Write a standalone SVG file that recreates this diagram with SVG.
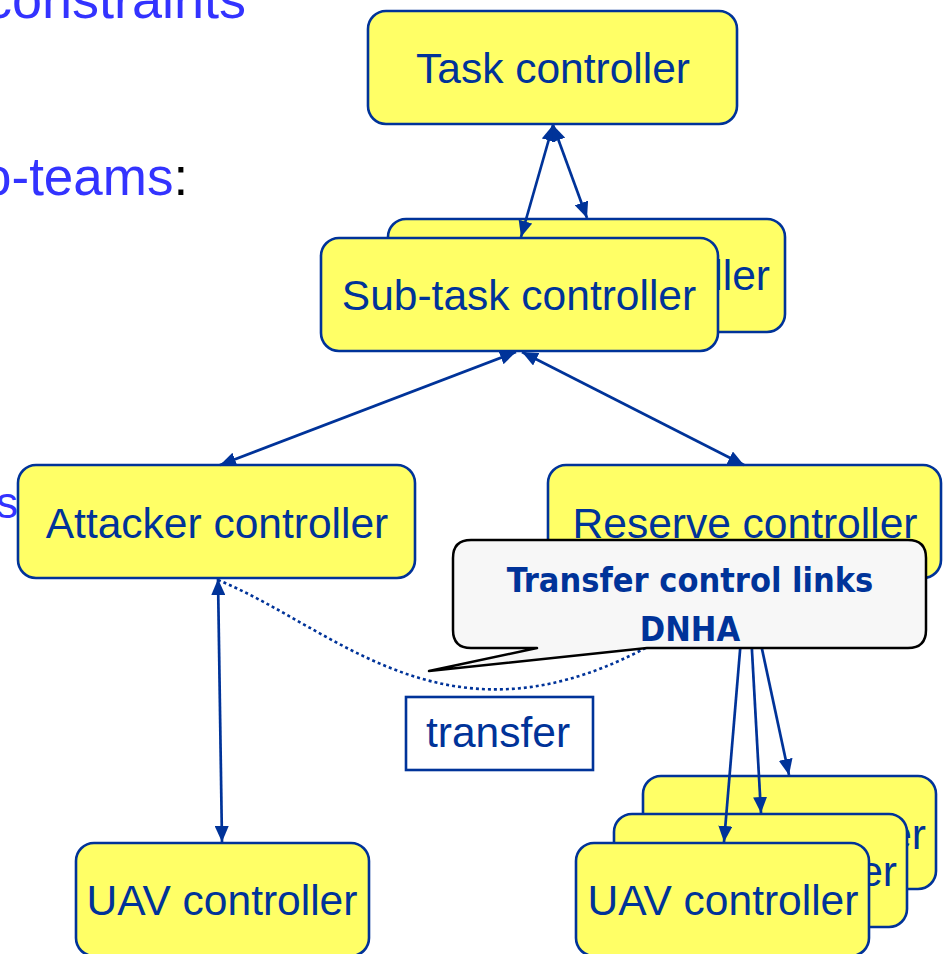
<svg xmlns="http://www.w3.org/2000/svg" width="943" height="954" viewBox="0 0 943 954">
  <style>
    .box { fill: #ffff66; stroke: #003399; stroke-width: 2.6; }
    .lbl { font-family: "Liberation Sans", Arial, sans-serif; font-size: 42.5px; fill: #003399; }
    .bg { font-family: "Liberation Sans", Arial, sans-serif; fill: #3333ff; }
    .link { fill: none; stroke: #003399; stroke-width: 2.7; }
    .dot { fill: none; stroke: #003399; stroke-width: 2.6; stroke-dasharray: 3 3; }
    .note { fill: #f7f7f7; stroke: #000000; stroke-width: 2.5; stroke-linejoin: round; }
    .notetxt { font-family: "DejaVu Sans Condensed", "DejaVu Sans", sans-serif; font-weight: bold; font-size: 34px; fill: #003399; text-anchor: middle; }
  </style>
  <defs>
    <marker id="head" viewBox="0 0 16 14" refX="16" refY="7" markerWidth="16" markerHeight="14" markerUnits="userSpaceOnUse" orient="auto-start-reverse">
      <path d="M0,0 L16,7 L0,14 Z" fill="#003399"/>
    </marker>
  </defs>

  <rect width="943" height="954" fill="#ffffff"/>

  <!-- slide text behind the chart -->
  <g id="slide-text">
    <text class="bg" x="-15" y="18" font-size="54">constraints</text>
    <text class="bg" x="-18" y="195" font-size="53">o-teams<tspan fill="#000000">:</tspan></text>
    <text class="bg" x="18" y="518" font-size="44" text-anchor="end" fill="#1f1fe0">s</text>
  </g>

  <g id="task">
    <rect class="box" x="368" y="11" width="369" height="113" rx="18"/>
    <text class="lbl" x="553" y="83" text-anchor="middle">Task controller</text>
  </g>

  <g id="subtask-2">
    <rect class="box" x="388" y="219" width="397" height="113" rx="18"/>
    <text class="lbl" x="770" y="290" text-anchor="end">Sub-task controller</text>
  </g>

  <g id="subtask-1">
    <rect class="box" x="321" y="238" width="397" height="113" rx="18"/>
    <text class="lbl" x="519" y="310" text-anchor="middle">Sub-task controller</text>
  </g>

  <g id="attacker">
    <rect class="box" x="18" y="465" width="397" height="113" rx="18"/>
    <text class="lbl" x="217" y="538" text-anchor="middle">Attacker controller</text>
  </g>

  <g id="reserve">
    <rect class="box" x="548" y="465" width="393" height="113" rx="18"/>
    <text class="lbl" x="745" y="538" text-anchor="middle">Reserve controller</text>
  </g>

  <g id="uav-left">
    <rect class="box" x="76" y="843" width="293" height="113" rx="18"/>
    <text class="lbl" x="222" y="915" text-anchor="middle">UAV controller</text>
  </g>

  <g id="uav-3">
    <rect class="box" x="643" y="776" width="293" height="113" rx="18"/>
    <text class="lbl" x="926" y="849" text-anchor="end">UAV controller</text>
  </g>

  <g id="uav-2">
    <rect class="box" x="614" y="814" width="293" height="113" rx="18"/>
    <text class="lbl" x="897" y="886" text-anchor="end">UAV controller</text>
  </g>

  <g id="uav-1">
    <rect class="box" x="576" y="843" width="293" height="113" rx="18"/>
    <text class="lbl" x="723" y="915" text-anchor="middle">UAV controller</text>
  </g>

  <g id="transfer">
    <rect x="406" y="697" width="187" height="73" fill="#ffffff" stroke="#003399" stroke-width="2.6"/>
    <text class="lbl" x="498" y="747" text-anchor="middle">transfer</text>
  </g>

  <g id="connectors">
    <line class="link" x1="553" y1="125" x2="521" y2="237" marker-start="url(#head)" marker-end="url(#head)"/>
    <line class="link" x1="553" y1="125" x2="587" y2="218" marker-start="url(#head)" marker-end="url(#head)"/>
    <line class="link" x1="516" y1="352" x2="220" y2="465" marker-start="url(#head)" marker-end="url(#head)"/>
    <line class="link" x1="522" y1="352" x2="744" y2="465" marker-start="url(#head)" marker-end="url(#head)"/>
    <line class="link" x1="218" y1="579" x2="222" y2="842" marker-start="url(#head)" marker-end="url(#head)"/>
    <line class="link" x1="746" y1="579" x2="724" y2="842" marker-end="url(#head)"/>
    <line class="link" x1="748" y1="579" x2="761" y2="813" marker-end="url(#head)"/>
    <line class="link" x1="747" y1="579" x2="789" y2="775" marker-end="url(#head)"/>
    <path class="dot" d="M218,580 C340,630 450,760 660,640"/>
  </g>

  <g id="callout">
    <path class="note" d="M471,540 H908 Q926,540 926,558 V630 Q926,648 908,648 H647 L429,671 L537,648 H471 Q453,648 453,630 V558 Q453,540 471,540 Z"/>
    <text class="notetxt" x="690" y="592">Transfer control links</text>
    <text class="notetxt" x="690" y="641">DNHA</text>
  </g>
</svg>
